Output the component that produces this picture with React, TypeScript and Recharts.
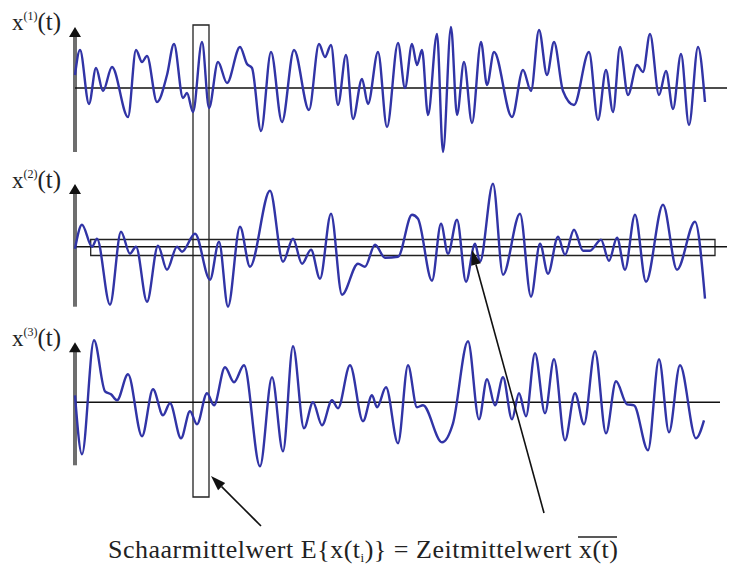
import React from "react";
import { LineChart, Line, XAxis, YAxis, ReferenceLine, ReferenceArea, ReferenceDot } from "recharts";

// time positions (t) and amplitudes of signal extrema
const t1 = [0,5,14,21,28,37,53,61,67,72,82,92,99,108,112,118,127,134,143,152,165,172,177,186,196,207,219,234,244,250,256,263,271,278,287,293,303,312,323,330,337,342,347,353,362,368,376,382,389,397,406,412,419,437,448,456,464,472,479,488,499,514,523,531,538,545,553,562,568,575,584,591,598,606,614,623,630];
const v1 = [13,38,-16,20,-3,21,-29,38,26,32,-14,13,44,-10,-5,-24,46,-20,26,5,41,24,20,-43,36,-34,38,-22,44,31,43,-17,33,-31,9,-16,36,-39,45,0,44,23,38,-27,54,-64,61,-27,26,-35,46,3,36,-29,18,-3,58,13,46,-3,-17,36,-32,18,-24,41,-7,23,16,54,-7,17,-21,34,-37,41,-14];

const t2 = [0,7,17,22,35,46,55,61,72,83,92,102,107,120,135,144,153,165,175,195,208,218,227,236,245,256,267,283,290,300,310,323,337,343,357,366,373,382,391,400,405,418,428,445,456,465,473,483,490,499,508,515,526,534,542,550,560,571,588,602,620,630];
const v2 = [-2,22,0,8,-58,15,-7,0,-55,1,-23,0,-5,13,-33,5,-60,20,-20,56,-15,8,-17,-3,-32,33,-48,-17,-20,2,-11,-10,32,28,-34,23,-7,27,-35,3,-15,63,-28,33,-50,3,-27,10,-8,17,-4,-4,7,-14,9,-23,32,-35,42,-23,25,-52];

const t3 = [0,7,19,30,36,42,53,67,78,88,95,106,115,122,132,139,150,159,169,185,197,208,218,229,238,247,257,263,275,288,297,302,311,323,333,342,348,367,378,393,404,412,420,428,437,444,451,460,470,479,490,500,509,520,531,541,552,559,573,584,594,605,621,629];
const v3 = [7,-52,62,11,8,2,28,-34,13,-13,-1,-36,-9,-22,9,-3,35,20,37,-64,25,-49,56,-26,0,-23,2,-6,37,-19,7,-5,15,-41,37,-5,-3,-40,-21,61,-17,23,-3,25,-17,9,-14,49,-11,43,-38,9,-22,51,-31,21,-2,-3,-48,43,-30,37,-36,-18];

const labels = ["(1)", "(2)", "(3)"];
const caption = "Schaarmittelwert E{x(t";
const caption2 = ")} = Zeitmittelwert x(t)";

const toRows = (ts: number[], vs: number[]) => ts.map((t, i) => ({ t, v: vs[i] }));
const s1 = toRows(t1, v1);
const s2 = toRows(t2, v2);
const s3 = toRows(t3, v3);

const BLUE = "#3134a6";
const AXISGRAY = "#6e6e6e";
const SERIF = "'Liberation Serif', 'Times New Roman', serif";

const ArrowUp = (props: any) => {
  const { cx, cy } = props;
  if (cx == null || cy == null) return null;
  return <polygon points={`${cx},${cy} ${cx - 6},${cy + 10} ${cx + 6},${cy + 10}`} fill="#111" />;
};

const ArrowLine = (props: any) => {
  const { x1, y1, x2, y2 } = props;
  if ([x1, y1, x2, y2].some((n) => n == null || isNaN(n))) return null;
  const dx = x2 - x1, dy = y2 - y1;
  const len = Math.sqrt(dx * dx + dy * dy);
  const ux = dx / len, uy = dy / len;
  const L = 15, W = 5;
  const bx = x2 - ux * L, by = y2 - uy * L;
  const px = -uy, py = ux;
  return (
    <g>
      <line x1={x1} y1={y1} x2={bx} y2={by} stroke="#111" strokeWidth={1.6} />
      <polygon points={`${x2},${y2} ${bx + px * W},${by + py * W} ${bx - px * W},${by - py * W}`} fill="#111" />
    </g>
  );
};

export default function App() {
  return (
    <div style={{ position: "absolute", left: 0, top: 0, width: 734, height: 574, background: "#fff" }}>
      <LineChart width={734} height={574} margin={{ top: 0, right: 0, bottom: 0, left: 0 }}>
        <XAxis type="number" dataKey="t" domain={[-75, 659]} hide allowDataOverflow />
        <YAxis yAxisId="a" type="number" domain={[-486, 88]} hide allowDataOverflow />
        <YAxis yAxisId="b" type="number" domain={[-327.3, 246.7]} hide allowDataOverflow />
        <YAxis yAxisId="c" type="number" domain={[-171.7, 402.3]} hide allowDataOverflow />

        {/* vertical axes */}
        <ReferenceLine yAxisId="a" segment={[{ x: 0, y: -64 }, { x: 0, y: 52 }]} stroke={AXISGRAY} strokeWidth={4} ifOverflow="visible" />
        <ReferenceLine yAxisId="b" segment={[{ x: 0, y: -60 }, { x: 0, y: 53 }]} stroke={AXISGRAY} strokeWidth={4} ifOverflow="visible" />
        <ReferenceLine yAxisId="c" segment={[{ x: 0, y: -63 }, { x: 0, y: 51 }]} stroke={AXISGRAY} strokeWidth={4} ifOverflow="visible" />
        <ReferenceDot yAxisId="a" x={0} y={61} shape={ArrowUp} ifOverflow="visible" />
        <ReferenceDot yAxisId="b" x={0} y={62.7} shape={ArrowUp} ifOverflow="visible" />
        <ReferenceDot yAxisId="c" x={0} y={60} shape={ArrowUp} ifOverflow="visible" />

        {/* horizontal zero lines */}
        <ReferenceLine yAxisId="a" segment={[{ x: 0, y: 0 }, { x: 652, y: 0 }]} stroke="#111" strokeWidth={1.5} ifOverflow="visible" />
        <ReferenceLine yAxisId="b" segment={[{ x: 0, y: 0 }, { x: 652, y: 0 }]} stroke="#111" strokeWidth={1.5} ifOverflow="visible" />
        <ReferenceLine yAxisId="c" segment={[{ x: 0, y: 0 }, { x: 645, y: 0 }]} stroke="#111" strokeWidth={1.5} ifOverflow="visible" />

        <Line yAxisId="a" data={s1} dataKey="v" type="monotone" stroke={BLUE} strokeWidth={2.4} dot={false} activeDot={false} isAnimationActive={false} />
        <Line yAxisId="b" data={s2} dataKey="v" type="monotone" stroke={BLUE} strokeWidth={2.4} dot={false} activeDot={false} isAnimationActive={false} />
        <Line yAxisId="c" data={s3} dataKey="v" type="monotone" stroke={BLUE} strokeWidth={2.4} dot={false} activeDot={false} isAnimationActive={false} />

        {/* ensemble-average window and time-average band */}
        <ReferenceArea yAxisId="a" x1={118} x2={134} y1={63} y2={-409} fill="none" fillOpacity={0} stroke="#222" strokeWidth={1.3} ifOverflow="visible" />
        <ReferenceArea yAxisId="b" x1={15.7} x2={640} y1={7.2} y2={-8.8} fill="none" fillOpacity={0} stroke="#222" strokeWidth={1.3} ifOverflow="visible" />

        {/* annotation arrows */}
        <ReferenceLine yAxisId="c" segment={[{ x: 186, y: -123.7 }, { x: 136, y: -73.7 }]} shape={ArrowLine} ifOverflow="visible" />
        <ReferenceLine yAxisId="c" segment={[{ x: 469, y: -110.7 }, { x: 397, y: 152.3 }]} shape={ArrowLine} ifOverflow="visible" />
      </LineChart>

      <svg width={734} height={574} style={{ position: "absolute", left: 0, top: 0, pointerEvents: "none" }}>
        {[30, 188, 346].map((y, i) => (
          <text key={i} x={12} y={y} fontFamily={SERIF} fontSize={23} fill="#222">
            x<tspan dy={-10} fontSize={12}>{labels[i]}</tspan>
            <tspan dy={10} fontSize={25}>(t)</tspan>
          </text>
        ))}
        <text x={108} y={558} fontFamily={SERIF} fontSize={26} fill="#222" textLength={510} lengthAdjust="spacing">
          {caption}
          <tspan dy={4} fontSize={13}>i</tspan>
          <tspan dy={-4}>{caption2}</tspan>
        </text>
        <line x1={578} y1={537} x2={617} y2={537} stroke="#222" strokeWidth={1.3} />
      </svg>
    </div>
  );
}
